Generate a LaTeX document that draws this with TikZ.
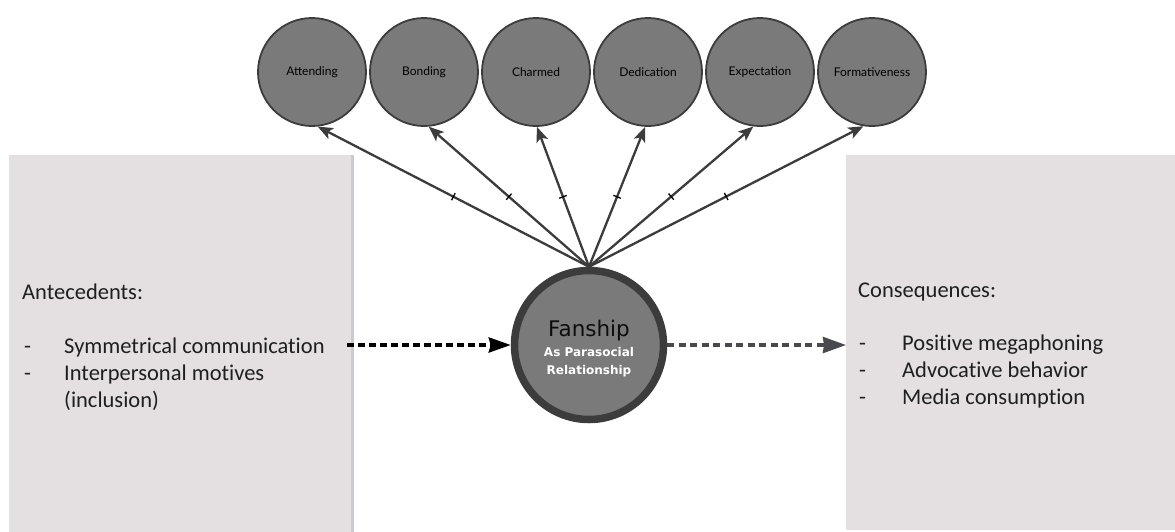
\documentclass[tikz,border=0pt]{standalone}
\usepackage{fontspec}
\setmainfont{Carlito}[Ligatures=NoCommon]
\newfontfamily\dejavu{DejaVu Sans}
\newfontfamily\latofont{Lato}
\usetikzlibrary{arrows.meta}

\definecolor{panelfill}{HTML}{E4E0E1}
\definecolor{paneledge}{HTML}{CBCAD3}
\definecolor{ballfill}{HTML}{7A7A7A}
\definecolor{balledge}{HTML}{3C3C3C}
\definecolor{consline}{HTML}{4A4A4E}

\tikzset{
  panel/.style={fill=panelfill, draw=none, inner sep=0, anchor=north west},
  facet/.style={circle, fill=ballfill, draw=balledge, line width=1.8pt,
    minimum size=108pt, inner sep=0, text=black,
    font=\latofont\fontsize{12}{14}\selectfont},
  core/.style={circle, fill=ballfill, draw=balledge, line width=7.5pt,
    minimum size=149pt, inner sep=0},
  facetarrow/.style={draw=balledge, line width=2.3pt,
    -{Stealth[length=15pt,width=12pt,inset=3.5pt]}},
  tickmark/.style={sloped, draw=black, line width=1.3pt, minimum width=0pt,
    minimum height=8pt, inner sep=0pt, outer sep=0pt},
  antearrow/.style={draw=black, line width=3.5pt, dash pattern=on 7pt off 4pt,
    -{Stealth[length=22pt,width=15pt,inset=2pt]}},
  consarrow/.style={draw=consline, line width=3.2pt, dash pattern=on 7pt off 4.5pt,
    -{Stealth[length=23pt,width=16pt,inset=1pt]}},
  paneltext/.style={anchor=base west, inner sep=0, text=black!88,
    font=\fontsize{22.5}{27}\selectfont},
}

\begin{document}
\begin{tikzpicture}[x=1pt, y=-1pt]
  \useasboundingbox (0,0) rectangle (1175,531);

  % side panels
  \node[panel, minimum width=343pt, minimum height=378pt] (antebox) at (9,155) {};
  \draw[paneledge, line width=2.5pt] (antebox.north east) -- (antebox.south east);
  \node[panel, minimum width=330pt, minimum height=375pt] (consbox) at (846,155) {};

  % antecedents text
  \node[paneltext] (antehead) at (22,299) {Antecedents:};
  \node[paneltext] (antedash1) at (24,353) {-};
  \node[paneltext] (antedash2) at (24,380) {-};
  \node[paneltext] (ante1) at (64,353) {Symmetrical communication};
  \node[paneltext] (ante2) at (64,380) {Interpersonal motives};
  \node[paneltext] (ante3) at (64,407) {(inclusion)};

  % consequences text
  \node[paneltext] (conshead) at (858,297) {Consequences:};
  \node[paneltext] (consdash1) at (859,350) {-};
  \node[paneltext] (consdash2) at (859,377) {-};
  \node[paneltext] (consdash3) at (859,404) {-};
  \node[paneltext] (cons1) at (902,350) {Positive megaphoning};
  \node[paneltext] (cons2) at (902,377) {Advocative behavior};
  \node[paneltext] (cons3) at (902,404) {Media consumption};

  % facet circles
  \node[facet] (att) at (312,72) {Attending};
  \node[facet] (bon) at (424,72) {Bonding};
  \node[facet] (cha) at (536,72) {Charmed};
  \node[facet] (ded) at (648,72) {Dedication};
  \node[facet] (exp) at (760,72) {Expectation};
  \node[facet] (frm) at (872,72) {Formativeness};

  % central construct
  \node[core] (fan) at (589,345) {};
  \node[anchor=base, inner sep=0, text=black!95,
    font=\dejavu\fontsize{21.5}{24}\selectfont] (fantitle) at (589,336) {Fanship};
  \node[anchor=base, inner sep=0, text=white, align=center,
    font=\dejavu\bfseries\fontsize{12}{18}\selectfont] (fansub) at (589,374)
    {As Parasocial\\Relationship};

  % loadings onto the facets
  \draw[facetarrow] (fan.north) -- (att.-84) node[tickmark, pos=0.5] (t1) {};
  \draw[facetarrow] (fan.north) -- (bon.-85) node[tickmark, pos=0.5] (t2) {};
  \draw[facetarrow] (fan.north) -- (cha.-89) node[tickmark, pos=0.5] (t3) {};
  \draw[facetarrow] (fan.north) -- (ded.-93) node[tickmark, pos=0.5] (t4) {};
  \draw[facetarrow] (fan.north) -- (exp.-97) node[tickmark, pos=0.5] (t5) {};
  \draw[facetarrow] (fan.north) -- (frm.-99) node[tickmark, pos=0.5] (t6) {};

  % antecedents -> fanship -> consequences
  \coordinate (antetail) at (347,345);
  \draw[antearrow] (antetail) -- (fan.west);
  \draw[consarrow] (fan.east) -- (consbox.west |- fan.east);
\end{tikzpicture}
\end{document}
